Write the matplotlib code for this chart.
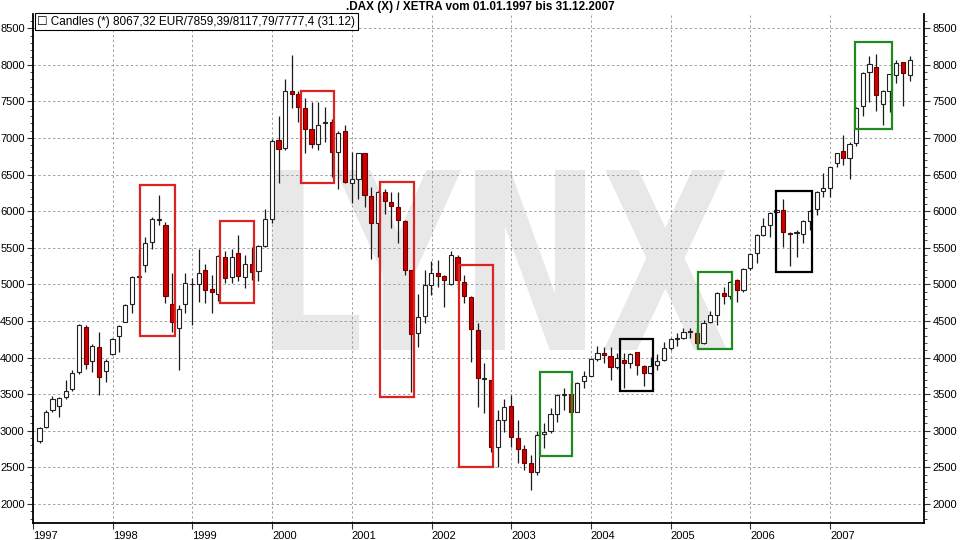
import matplotlib
matplotlib.use("Agg")
import matplotlib.pyplot as plt
import matplotlib.dates as mdates
import matplotlib.transforms as mtransforms
from matplotlib.patches import Rectangle, PathPatch
from matplotlib.textpath import TextPath
from matplotlib.font_manager import FontProperties
from matplotlib.ticker import MultipleLocator, FixedLocator
import pandas as pd
import numpy as np

plt.rcParams["font.family"] = ["Liberation Sans Narrow", "Liberation Sans", "DejaVu Sans"]

# monthly DAX candles, Jan 1997 .. Dec 2007
opens = [
    2860, 3050, 3280, 3340, 3460, 3570, 3800, 4420, 3960, 4150, 3820, 4050,
    4300, 4490, 4730, 5105, 5265, 5575, 5880, 5810, 4730, 4400, 4730, 5010,
    5000, 5195, 4935, 4870, 5370, 5100, 5425, 5100, 5275, 5185, 5525, 5895,
    6975, 6860, 7645, 7600, 7405, 7120, 6920, 7210, 7225, 6815, 7100, 6390,
    6435, 6790, 6205, 5845, 6265, 6125, 6055, 5870, 5195, 4330, 4570, 4990,
    5160, 5110, 5005, 5380, 5035, 4825, 4380, 3710, 3695, 2785, 3150, 3340,
    2895, 2750, 2555, 2430, 2955, 3000, 3230, 3485, 3500, 3260, 3685, 3750,
    3975, 4060, 4020, 3865, 3965, 3930, 4070, 3885, 3795, 3900, 3965, 4125,
    4255, 4265, 4345, 4335, 4200, 4480, 4580, 4885, 4840, 5060, 4930, 5220,
    5425, 5675, 5810, 5990, 6015, 5690, 5700, 5690, 5870, 6025, 6275, 6310,
    6655, 6825, 6720, 6925, 7440, 7905, 7975, 7470, 7645, 7860, 8035, 7859.39,
]
highs = [
    3050, 3285, 3470, 3460, 3700, 3825, 4460, 4440, 4180, 4345, 3980, 4270,
    4450, 4730, 5120, 5420, 5650, 5920, 6220, 5850, 5150, 4720, 5160, 5085,
    5490, 5280, 5130, 5400, 5450, 5490, 5675, 5400, 5515, 5540, 6030, 6980,
    7300, 7800, 8135, 7640, 7545, 7485, 7485, 7430, 7260, 7100, 7180, 6810,
    6800, 6800, 6335, 6280, 6300, 6265, 6260, 5880, 5200, 4870, 5200, 5325,
    5330, 5130, 5460, 5400, 5130, 4840, 4470, 3930, 3700, 3285, 3430, 3490,
    3150, 2805, 2670, 3000, 3100, 3305, 3500, 3580, 3655, 3660, 3810, 3990,
    4160, 4140, 4150, 4065, 4060, 4060, 4080, 3900, 4005, 4050, 4215, 4270,
    4330, 4400, 4400, 4400, 4515, 4630, 4900, 4970, 5050, 5080, 5220, 5430,
    5690, 5905, 5990, 6030, 6160, 5710, 5740, 5880, 6020, 6280, 6515, 6610,
    6800, 7040, 6940, 7420, 7900, 8120, 8150, 7660, 7880, 8060, 8040, 8117.79,
]
lows = [
    2830, 3040, 3250, 3195, 3440, 3550, 3780, 3850, 3800, 3490, 3660, 4030,
    4070, 4480, 4610, 4990, 5170, 5490, 5810, 4750, 4355, 3830, 4605, 4445,
    4765, 4740, 4605, 4775, 5015, 5015, 5040, 4945, 5060, 5050, 5510, 5835,
    6380, 6840, 7405, 7225, 6790, 6860, 6835, 6950, 6470, 6300, 6380, 6110,
    6160, 6060, 5340, 5380, 5965, 5765, 5560, 5130, 3535, 4150, 4475, 4855,
    4970, 4695, 4990, 4940, 4740, 3945, 3330, 3240, 2715, 2510, 2990, 2785,
    2565, 2465, 2190, 2395, 2760, 2965, 3125, 3285, 3200, 3250, 3580, 3745,
    3950, 3930, 3695, 3850, 3580, 3855, 3760, 3610, 3780, 3830, 3960, 4110,
    4160, 4250, 4265, 4125, 4190, 4470, 4445, 4730, 4800, 4765, 4900, 5200,
    5290, 5660, 5650, 5960, 5515, 5245, 5370, 5560, 5745, 5950, 6200, 6200,
    6600, 6630, 6435, 6890, 7300, 7495, 7375, 7180, 7360, 7755, 7435, 7777.4,
]
closes = [
    3035, 3250, 3430, 3445, 3550, 3785, 4440, 3910, 4160, 3740, 3960, 4250,
    4435, 4720, 5105, 5115, 5560, 5900, 5895, 4840, 4480, 4670, 5015, 5000,
    5160, 4925, 4900, 5390, 5085, 5380, 5115, 5275, 5165, 5525, 5890, 6960,
    6845, 7645, 7600, 7430, 7120, 6920, 7180, 7225, 6815, 7075, 6405, 6435,
    6790, 6220, 5845, 6265, 6135, 6065, 5875, 5195, 4320, 4560, 4990, 5160,
    5110, 5055, 5400, 5055, 4835, 4395, 3715, 3720, 2775, 3150, 3330, 2910,
    2750, 2565, 2435, 2940, 2985, 3230, 3490, 3490, 3260, 3650, 3750, 3975,
    4060, 4035, 3865, 3990, 3930, 4050, 3900, 3795, 3885, 3960, 4125, 4255,
    4265, 4355, 4350, 4200, 4470, 4580, 4885, 4840, 5035, 4930, 5205, 5410,
    5675, 5800, 5980, 6010, 5720, 5685, 5710, 5865, 6005, 6265, 6310, 6600,
    6790, 6720, 6915, 7405, 7885, 8010, 7585, 7640, 7870, 8020, 7885, 8067.32,
]
months = pd.date_range("1997-01-31", periods=len(closes), freq="ME")

# highlighted phases (May..Oct windows)
box_start = ["1998-05-08", "1999-05-08", "2000-05-14", "2001-05-08", "2002-05-08",
             "2003-05-14", "2004-05-12", "2005-05-05", "2006-04-28", "2007-04-24"]
box_end = ["1998-10-12", "1999-10-09", "2000-10-09", "2001-10-11", "2002-10-09",
           "2003-10-05", "2004-10-12", "2005-10-09", "2006-10-09", "2007-10-12"]
box_low = [4300, 4740, 6390, 3460, 2510, 2660, 3548, 4113, 5166, 7120]
box_high = [6360, 5860, 7645, 6400, 5265, 3807, 4250, 5173, 6276, 8316]
box_color = ["#dd2222"] * 5 + ["#1f8a1f", "black", "#1f8a1f", "black", "#1f8a1f"]

year_ticks = list(range(1997, 2008))

fig = plt.figure(figsize=(9.6, 5.4), dpi=100)
ax = fig.add_axes([33 / 960, 17 / 540, 891 / 960, 509 / 540])

# LYNX watermark
fp = FontProperties(family="DejaVu Sans", weight="bold")
tp = TextPath((0, 0), "LYNX", size=1, prop=fp)
bb = tp.get_extents()
wx0, wx1, wy0, wy1 = 0.268, 0.779, 0.340, 0.6935
tr = (mtransforms.Affine2D().translate(-bb.x0, -bb.y0)
      .scale((wx1 - wx0) / bb.width, (wy1 - wy0) / bb.height)
      .translate(wx0, wy0) + ax.transAxes)
ax.add_artist(PathPatch(tp, transform=tr, facecolor="#e8e8e8", edgecolor="none", zorder=0.2))

x = mdates.date2num(months)
o = np.array(opens); h = np.array(highs); l = np.array(lows); c = np.array(closes)
up = c >= o
body_lo = np.minimum(o, c)
body_h = np.maximum(np.abs(c - o), 12)

ax.vlines(x, l, h, color="#1a1a1a", lw=0.9, zorder=2)
ax.bar(x[up], body_h[up], bottom=body_lo[up], width=19, color="white",
       edgecolor="#222222", lw=0.8, zorder=3)
ax.bar(x[~up], body_h[~up], bottom=body_lo[~up], width=19, color="#cc0000",
       edgecolor="#6a0000", lw=0.8, zorder=3)

for s, e, lo, hi, col in zip(box_start, box_end, box_low, box_high, box_color):
    x0 = mdates.date2num(pd.Timestamp(s))
    x1 = mdates.date2num(pd.Timestamp(e))
    ax.add_patch(Rectangle((x0, lo), x1 - x0, hi - lo, fill=False,
                           edgecolor=col, lw=1.6, zorder=4))

ax.set_xlim(mdates.date2num(pd.Timestamp("1997-01-01")),
            mdates.date2num(pd.Timestamp("2008-03-06")))
ax.set_ylim(1740, 8694)

ax.xaxis.set_major_locator(FixedLocator(
    [mdates.date2num(pd.Timestamp(f"{y}-01-01")) for y in year_ticks]))
ax.set_xticklabels([str(y) for y in year_ticks])
offset = mtransforms.ScaledTranslation(1.5 / 100, 0, fig.dpi_scale_trans)
for lab in ax.get_xticklabels():
    lab.set_horizontalalignment("left")
    lab.set_transform(lab.get_transform() + offset)

ax.yaxis.set_major_locator(MultipleLocator(500))
ax.yaxis.set_minor_locator(MultipleLocator(100))
ax.tick_params(axis="both", which="major", labelsize=8, length=4, width=0.8,
               color="#333333", pad=2)
ax.tick_params(axis="y", which="minor", length=2, width=0.6, color="#333333")
ax.tick_params(axis="y", which="both", left=True, right=True, labelleft=True, labelright=True)

ax.grid(True, which="major", color="#a0a0a0", ls=(0, (2.5, 2.5)), lw=0.7)
ax.set_axisbelow(True)
for side in ["left", "right", "bottom"]:
    ax.spines[side].set_linewidth(1.3)
ax.spines["top"].set_visible(False)

fig.text(0.5, 1 - 7 / 540, ".DAX (X) / XETRA vom 01.01.1997 bis 31.12.2007",
         ha="center", va="center", fontsize=8.5, fontweight="bold")
ax.text(0.005, 0.997, "\u2610 Candles (*) 8067,32 EUR/7859,39/8117,79/7777,4 (31.12)",
        transform=ax.transAxes, ha="left", va="top", fontsize=8.5,
        family=["Liberation Sans", "DejaVu Sans"],
        bbox=dict(boxstyle="square,pad=0.2", fc="white", ec="black", lw=0.8), zorder=6)

fig.savefig("out.png", dpi=100)
